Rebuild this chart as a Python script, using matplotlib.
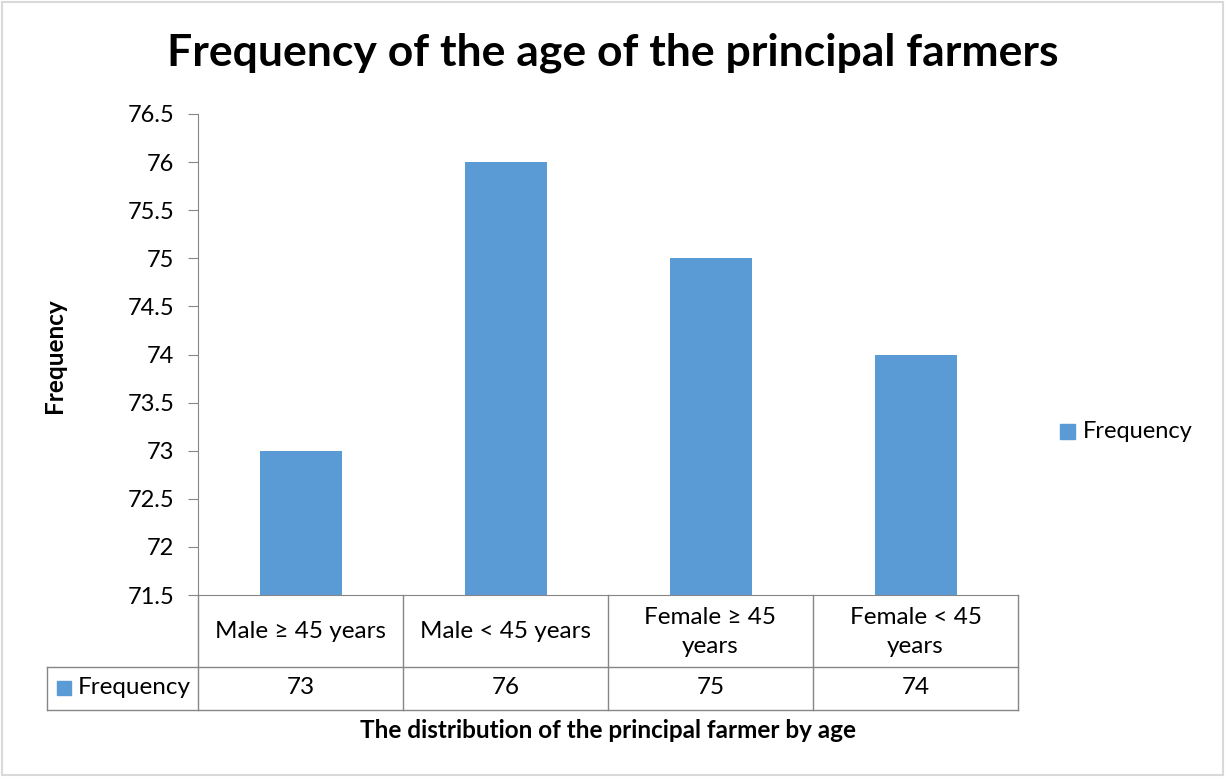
import matplotlib.pyplot as plt
from matplotlib.patches import Rectangle
from matplotlib.lines import Line2D

plt.rcParams['font.family'] = ['Lato', 'DejaVu Sans']

# Data
categories = ["Male \u2265 45 years", "Male < 45 years", "Female \u2265 45\nyears", "Female < 45\nyears"]
values = [73, 76, 75, 74]
series_name = "Frequency"
yticks = [71.5, 72, 72.5, 73, 73.5, 74, 74.5, 75, 75.5, 76, 76.5]

W, H = 1225, 777
color = "#5B9BD5"
grey = "#868686"

fig = plt.figure(figsize=(W / 100, H / 100), dpi=100)


def fx(px):
    return px / W


def fy(py):
    return 1 - py / H


ax = fig.add_axes([fx(198), fy(595), fx(1018) - fx(198), fy(114) - fy(595)])

x = list(range(len(categories)))
ax.bar(x, [v - yticks[0] for v in values], bottom=yticks[0], width=0.4, color=color)
ax.set_xlim(-0.5, len(categories) - 0.5)
ax.set_ylim(yticks[0], yticks[-1])
ax.set_yticks(yticks)
ax.set_yticklabels([f"{t:g}" for t in yticks], fontsize=17)
ax.set_xticks([])
for s in ["top", "right"]:
    ax.spines[s].set_visible(False)
ax.spines["left"].set_color(grey)
ax.spines["bottom"].set_color(grey)
ax.tick_params(axis="y", length=7, color=grey, pad=10)

# Title and axis labels
fig.text(0.5, fy(53), "Frequency of the age of the principal farmers",
         ha="center", va="center", fontsize=32, fontweight="bold")
fig.text(fx(55), fy(356), "Frequency", rotation=90, ha="center", va="center",
         fontsize=17.5, fontweight="bold")
fig.text(fx(608), fy(731), "The distribution of the principal farmer by age",
         ha="center", va="center", fontsize=17.5, fontweight="bold")

# Data table under the axis
def hline(y, x0, x1):
    fig.add_artist(Line2D([fx(x0), fx(x1)], [fy(y), fy(y)], color=grey, lw=1))


def vline(xp, y0, y1):
    fig.add_artist(Line2D([fx(xp), fx(xp)], [fy(y0), fy(y1)], color=grey, lw=1))


hline(667, 47, 1018)
hline(710, 47, 1018)
col_edges = [198 + 205 * i for i in range(len(categories) + 1)]
for xe in col_edges:
    vline(xe, 595, 710)
vline(47, 667, 710)

for i, (cat, v) in enumerate(zip(categories, values)):
    cx = (col_edges[i] + col_edges[i + 1]) / 2
    fig.text(fx(cx), fy(632), cat, ha="center", va="center", fontsize=17.5,
             linespacing=1.45)
    fig.text(fx(cx), fy(688), str(v), ha="center", va="center", fontsize=17.5)

fig.add_artist(Rectangle((fx(57), fy(695)), fx(14), 14 / H, color=color))
fig.text(fx(78), fy(688), series_name, ha="left", va="center", fontsize=17.5)

# Legend on the right
fig.add_artist(Rectangle((fx(1060), fy(439)), fx(15), 15 / H, color=color))
fig.text(fx(1083), fy(432), series_name, ha="left", va="center", fontsize=17)

# Chart border
fig.add_artist(Rectangle((0.002, 0.002), 0.996, 0.996, fill=False,
                         edgecolor="#D9D9D9", lw=1.5))

fig.savefig("out.png", dpi=100)
